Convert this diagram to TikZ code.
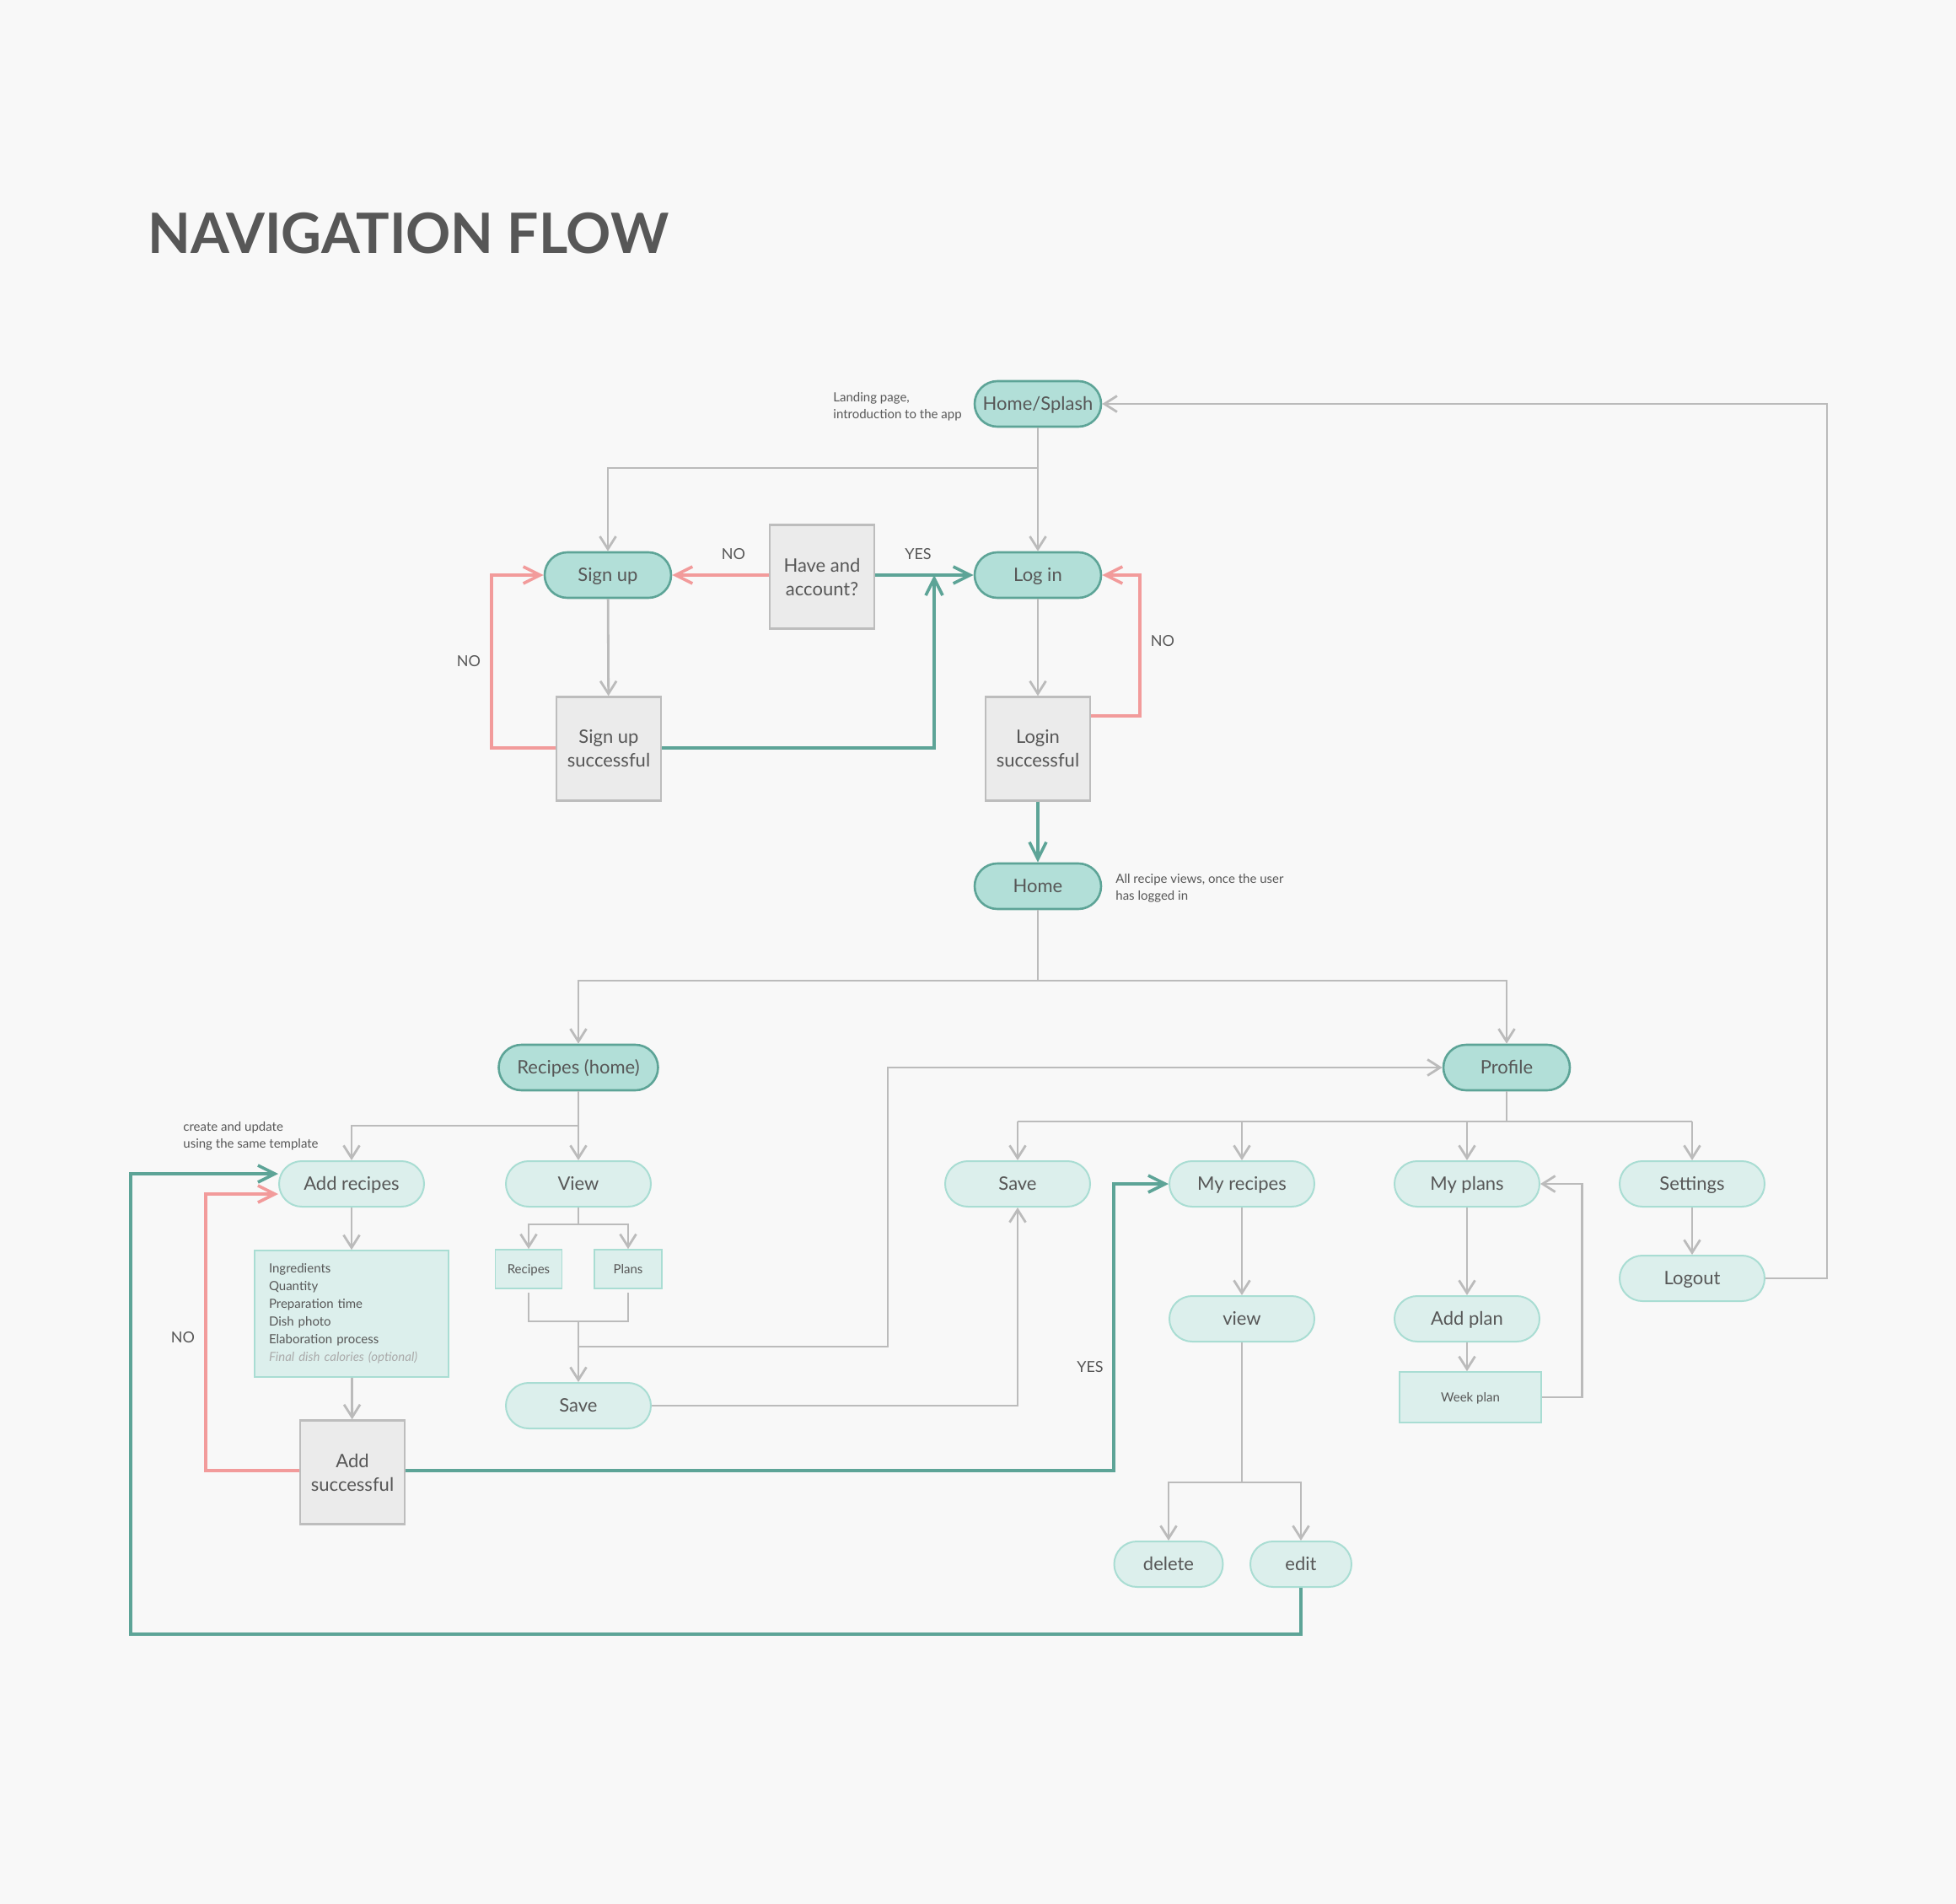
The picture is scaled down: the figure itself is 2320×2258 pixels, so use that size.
\documentclass[tikz,border=0pt]{standalone}
\usepackage{fontspec}
\setmainfont{Lato}
\usetikzlibrary{arrows.meta}
\definecolor{bgpaper}{HTML}{F8F8F8}
\definecolor{ink}{HTML}{575757}
\definecolor{tealline}{HTML}{5DA497}
\definecolor{tealfill}{HTML}{B2DFD8}
\definecolor{mintline}{HTML}{A9DDD3}
\definecolor{mintfill}{HTML}{DCEFEC}
\definecolor{boxline}{HTML}{BDBDBD}
\definecolor{boxfill}{HTML}{EBEBEB}
\definecolor{flowgray}{HTML}{BBBBBB}
\definecolor{nored}{HTML}{F29B9B}
\definecolor{mutedgray}{HTML}{ABABAB}

\begin{document}
\begin{tikzpicture}[x=0.5pt, y=-0.5pt,
    every node/.style={text=ink},
    mainpill/.style={draw=tealline, fill=tealfill, line width=1.3pt, rounded corners=13.5pt, minimum width=75pt, minimum height=27pt, inner sep=0pt, text height=7.9pt, text depth=0pt, font=\fontsize{11}{14}\selectfont},
    subpill/.style={draw=mintline, fill=mintfill, line width=1pt, rounded corners=13.5pt, minimum width=86pt, minimum height=27pt, inner sep=0pt, text height=7.9pt, text depth=0pt, font=\fontsize{11}{14}\selectfont},
    checkbox/.style={draw=boxline, fill=boxfill, line width=1.2pt, minimum width=62pt, minimum height=61.5pt, inner sep=0pt, align=center, font=\fontsize{11}{14}\selectfont},
    infobox/.style={draw=mintline, fill=mintfill, line width=0.8pt, inner sep=0pt, font=\fontsize{7.5}{10.5}\selectfont},
    tagbox/.style={infobox, text height=5.4pt, text depth=0pt},
    note/.style={anchor=west, align=left, inner sep=0pt, font=\fontsize{7.5}{10}\selectfont},
    answer/.style={inner sep=0pt, font=\fontsize{9}{11}\selectfont},
    gline/.style={draw=flowgray, line width=1.4pt},
    garrow/.style={gline, -{Straight Barb[length=7.5pt, width=9.5pt]}},
    tarrow/.style={draw=tealline, line width=1.8pt, -{Straight Barb[length=10pt, width=10pt]}},
    rarrow/.style={draw=nored, line width=1.8pt, -{Straight Barb[length=10pt, width=10pt]}}]
    \fill[bgpaper] (0,0) rectangle (2320,2258);
    \node[anchor=west, inner sep=0pt, font=\fontsize{33}{36}\selectfont\bfseries] (title) at (175,277) {NAVIGATION FLOW};

    \node[mainpill] (splash) at (1231,479) {Home/Splash};
    \node[mainpill] (login) at (1231,682) {Log in};
    \node[mainpill] (signup) at (721,682) {Sign up};
    \node[checkbox] (hasacc) at (975,684) {Have and\\account?};
    \node[checkbox] (signok) at (722,888) {Sign up\\successful};
    \node[checkbox] (logok) at (1231,888) {Login\\successful};
    \node[mainpill] (home) at (1231,1051) {Home};
    \node[mainpill, minimum width=94.5pt] (rechome) at (686,1266) {Recipes (home)};
    \node[mainpill] (profile) at (1787,1266) {Profile};
    \node[subpill] (addrec) at (417,1404) {Add recipes};
    \node[subpill] (view) at (686,1404) {View};
    \node[subpill] (savefav) at (1207,1404) {Save};
    \node[subpill] (myrec) at (1473,1404) {My recipes};
    \node[subpill] (myplans) at (1740,1404) {My plans};
    \node[subpill] (settings) at (2007,1404) {Settings};
    \node[subpill] (logout) at (2007,1516) {Logout};
    \node[tagbox, minimum width=39.5pt, minimum height=23pt] (recbox) at (627,1505) {Recipes};
    \node[tagbox, minimum width=40pt, minimum height=23pt] (planbox) at (745,1505) {Plans};
    \node[infobox, minimum width=115pt, minimum height=75pt, text width=98pt, align=left] (fields) at (417,1558) {Ingredients\\Quantity\\Preparation time\\Dish photo\\Elaboration process\\{\color{mutedgray}\itshape Final dish calories (optional)}};
    \node[subpill] (save) at (686,1667) {Save};
    \node[checkbox] (addok) at (418,1746) {Add\\successful};
    \node[subpill] (myview) at (1473,1564) {view};
    \node[subpill] (addplan) at (1740,1564) {Add plan};
    \node[tagbox, minimum width=84pt, minimum height=30pt] (week) at (1744,1657) {Week plan};
    \node[subpill, minimum width=64.5pt] (delete) at (1386,1855) {delete};
    \node[subpill, minimum width=60pt] (edit) at (1543,1855) {edit};

    \node[note] (landnote) at (988,482) {Landing page,\\introduction to the app};
    \node[note] (homenote) at (1323,1053) {All recipe views, once the user\\has logged in};
    \node[note] (addnote) at (217,1347) {create and update\\using the same template};
    \node[answer] (nosign) at (870,657) {NO};
    \node[answer] (yeslog) at (1089,657) {YES};
    \node[answer] (noretry) at (556,784) {NO};
    \node[answer] (nologin) at (1379,760) {NO};
    \node[answer] (noadd) at (217,1586) {NO};
    \node[answer] (yesadd) at (1293,1621) {YES};

    \draw[garrow] (splash) -- (login);
    \draw[garrow] (splash.south |- 0,555) -| (signup.north);
    \draw[rarrow] (hasacc.west |- signup) -- (signup);
    \draw[tarrow] (hasacc.east |- login) -- (login);
    \draw[garrow] (signup) -- (signok);
    \coordinate (yesjoin) at (1108,682);
    \draw[tarrow] (signok.east |- 0,887) -| (yesjoin);
    \draw[rarrow] (signok.west |- 0,887) -- ++(-76,0) |- (signup.west);
    \draw[garrow] (login) -- (logok);
    \draw[rarrow] (logok.east |- 0,849) -- (1352,849) |- (login.east);
    \draw[tarrow] (logok) -- (home);
    \draw[gline] (home.south) -- (home.south |- 0,1163);
    \draw[garrow] (home.south |- 0,1163) -| (rechome.north);
    \draw[garrow] (home.south |- 0,1163) -| (profile.north);

    \draw[garrow] (rechome) -- (view);
    \draw[garrow] (rechome.south |- 0,1335) -| (addrec.north);
    \draw[garrow] (addrec) -- (fields);
    \draw[garrow] (fields) -- (addok);
    \draw[rarrow] (addok.west |- 0,1744) -- (244,1744) |- ([yshift=-6pt]addrec.west);
    \draw[tarrow] (addok.east |- 0,1744) -- (1321,1744) |- (myrec.west);
    \draw[tarrow] (edit.south) |- (155,1938) |- ([yshift=6pt]addrec.west);
    \draw[gline] (view.south) -- (view.south |- 0,1452);
    \draw[garrow] (view.south |- 0,1452) -| (recbox.north);
    \draw[garrow] (view.south |- 0,1452) -| (planbox.north);
    \coordinate (merge) at (686,1567);
    \draw[gline] ([yshift=-2pt]recbox.south) |- (merge) -| ([yshift=-2pt]planbox.south);
    \draw[garrow] (merge) -- (save.north);
    \draw[garrow] (merge |- 0,1597) -- (1053,1597) |- (profile.west);
    \draw[garrow] (save.east) -| (savefav.south);

    \draw[gline] (profile.south) -- (profile.south |- 0,1330);
    \draw[gline] (savefav.north |- 0,1330) -- (settings.north |- 0,1330);
    \foreach \n in {savefav, myrec, myplans, settings}
        \draw[garrow] (\n.north |- 0,1330) -- (\n.north);
    \draw[garrow] (myrec) -- (myview);
    \draw[gline] (myview.south) -- (myview.south |- 0,1758);
    \draw[garrow] (myview.south |- 0,1758) -| (delete.north);
    \draw[garrow] (myview.south |- 0,1758) -| (edit.north);
    \draw[garrow] (myplans) -- (addplan);
    \draw[garrow] (addplan.south) -- (addplan.south |- week.north);
    \draw[garrow] (week.east) -- ++(48,0) |- (myplans.east);
    \draw[garrow] (settings) -- (logout);
    \draw[garrow] (logout.east) -- ++(73,0) |- (splash.east);
\end{tikzpicture}
\end{document}
